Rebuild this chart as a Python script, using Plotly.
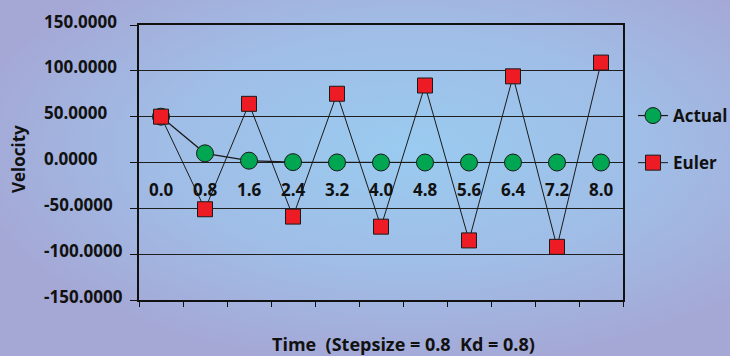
import base64
import plotly.graph_objects as go

# Time steps (category labels along the horizontal axis)
times = ["0.0", "0.8", "1.6", "2.4", "3.2", "4.0", "4.8", "5.6", "6.4", "7.2", "8.0"]
# Exact solution and explicit Euler estimate of velocity
actual = [50, 10, 2, 0.4, 0.08, 0.016, 0, 0, 0, 0, 0]
euler = [50, -51, 64, -59, 75, -70, 84, -85, 94, -92, 109]
# Velocity axis ticks
y_ticks = [150, 100, 50, 0, -50, -100, -150]
y_tick_text = ["150.0000", "100.0000", "50.0000", "0.0000", "-50.0000", "-100.0000", "-150.0000"]

W, H = 730, 356
ML, MR, MT, MB = 139, 107, 25, 56
PW, PH = W - ML - MR, H - MT - MB

FONT = "Open Sans"
INK = "#111111"

# soft radial backdrop
svg = (
    f"<svg xmlns='http://www.w3.org/2000/svg' width='{W}' height='{H}'>"
    "<defs><radialGradient id='g' cx='0.56' cy='0.42' r='0.62'>"
    "<stop offset='0' stop-color='#9acbf0'/>"
    "<stop offset='0.55' stop-color='#a0bde6'/>"
    "<stop offset='1' stop-color='#a5a7d5'/>"
    "</radialGradient></defs>"
    f"<rect width='{W}' height='{H}' fill='url(#g)'/></svg>"
)
bg_uri = "data:image/svg+xml;base64," + base64.b64encode(svg.encode()).decode()

fig = go.Figure()

fig.add_trace(go.Scatter(
    x=times, y=actual, name="Actual", mode="lines+markers",
    legendgroup="a",
    line=dict(color="#1a1a1a", width=1.2),
    marker=dict(symbol="circle", size=17, color="#00a651",
                line=dict(color="#1a1a1a", width=1)),
))
fig.add_trace(go.Scatter(
    x=times, y=euler, name="Euler", mode="lines+markers",
    legendgroup="b",
    line=dict(color="#1a1a1a", width=1),
    marker=dict(symbol="square", size=15, color="#ed1c24",
                line=dict(color="#1a1a1a", width=1)),
))

annotations = []
# left-aligned velocity tick labels
for v, t in zip(y_ticks, y_tick_text):
    annotations.append(dict(
        xref="paper", yref="y", x=0, y=v, xshift=-(ML - 42), yshift=4,
        xanchor="left", yanchor="middle", text=t, showarrow=False,
        font=dict(family=FONT, size=17, color=INK, weight="bold"),
    ))
# time labels sit just under the zero line (placed by category index)
for i, t in enumerate(times):
    annotations.append(dict(
        xref="x", yref="y", x=i, y=-29, text=t, showarrow=False,
        xanchor="center", yanchor="middle",
        font=dict(family=FONT, size=17, color=INK, weight="bold"),
    ))
# axis titles
annotations.append(dict(
    xref="paper", yref="paper", x=0, y=0.5, xshift=-(ML - 18), yshift=3.5,
    text="Velocity", textangle=-90, showarrow=False,
    xanchor="center", yanchor="middle",
    font=dict(family=FONT, size=17, color=INK, weight="bold"),
))
annotations.append(dict(
    xref="paper", yref="paper", x=(403 - ML) / PW, y=0, yshift=-(344 - (H - MB)),
    text="Time\u00a0\u00a0(Stepsize = 0.8\u00a0\u00a0Kd = 0.8)", showarrow=False,
    xanchor="center", yanchor="middle",
    font=dict(family=FONT, size=18, color=INK, weight="bold"),
))

fig.update_layout(
    width=W, height=H,
    margin=dict(l=ML, r=MR, t=MT, b=MB, pad=0, autoexpand=False),
    paper_bgcolor="#a4b4de",
    plot_bgcolor="rgba(0,0,0,0)",
    images=[dict(
        source=bg_uri, xref="paper", yref="paper",
        x=-ML / PW, y=1 + MT / PH, sizex=W / PW, sizey=H / PH,
        xanchor="left", yanchor="top", sizing="stretch", layer="below",
    )],
    showlegend=True,
    legend=dict(
        x=(633 - ML) / PW, y=(300 - 98) / PH, xanchor="left", yanchor="top",
        bgcolor="rgba(0,0,0,0)", borderwidth=0,
        traceorder="grouped", tracegroupgap=22, itemwidth=30,
        font=dict(family=FONT, size=17, color=INK, weight="bold"),
    ),
    annotations=annotations,
    xaxis=dict(
        type="category", range=[-0.5, len(times) - 0.5],
        tickson="boundaries", showticklabels=False,
        ticks="outside", ticklen=5, tickcolor=INK, tickwidth=1,
        showline=True, linecolor=INK, linewidth=1.5, mirror=True,
        showgrid=False, zeroline=False, fixedrange=True,
    ),
    yaxis=dict(
        range=[-150, 150], tickvals=y_ticks, showticklabels=False,
        ticks="outside", ticklen=7, tickcolor=INK, tickwidth=1.2,
        showgrid=True, gridcolor="#1f1f1f", gridwidth=1.2,
        showline=True, linecolor=INK, linewidth=1.5, mirror=True,
        zeroline=False, fixedrange=True,
    ),
)

fig.write_html("out.html")
